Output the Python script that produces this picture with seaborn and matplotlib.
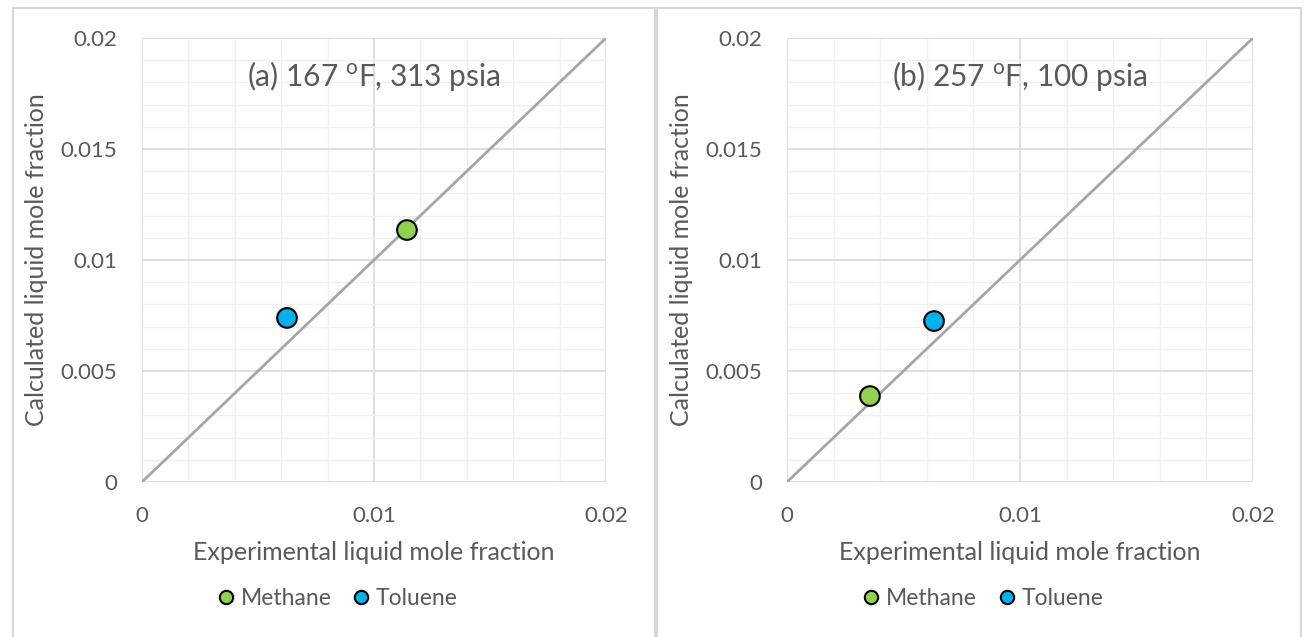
import matplotlib
matplotlib.use("Agg")
import matplotlib.pyplot as plt
from matplotlib.patches import Rectangle
from matplotlib.ticker import MultipleLocator, FuncFormatter
import seaborn as sns
import pandas as pd

components = ["Methane", "Toluene"]
colors = {"Methane": "#92D050", "Toluene": "#00B0F0"}

# panel (a) 167 F, 313 psia
exp_a = [0.01142, 0.00625]
calc_a = [0.01135, 0.00739]
# panel (b) 257 F, 100 psia
exp_b = [0.00356, 0.00631]
calc_b = [0.00387, 0.00725]

titles = [r"(a) 167 $\mathregular{^o}$F, 313 psia", r"(b) 257 $\mathregular{^o}$F, 100 psia"]
parity = [0, 0.02]

sns.set_theme(style="white")
plt.rcParams["font.family"] = ["Lato", "DejaVu Sans"]
text_col = "#595959"
grid_col = "#D9D9D9"

fig = plt.figure(figsize=(13.07, 6.37), dpi=100)
W, H = 1307, 637

# panel frames (bottom edge runs off the image)
fig.patches.append(Rectangle((13 / W, -0.05), (655 - 13) / W, 1.05 - 8 / H, transform=fig.transFigure,
                             fill=False, edgecolor="#D0D0D0", lw=1.2))
fig.patches.append(Rectangle((657 / W, -0.05), (1301 - 657) / W, 1.05 - 8 / H, transform=fig.transFigure,
                             fill=False, edgecolor="#D0D0D0", lw=1.2))

axes_pos = [(142, 606), (787, 1253)]
datasets = [(exp_a, calc_a), (exp_b, calc_b)]

for (x0, x1), (ex, ca), title in zip(axes_pos, datasets, titles):
    ax = fig.add_axes([x0 / W, (H - 482) / H, (x1 - x0) / W, 444 / H])
    df = pd.DataFrame({"exp": ex, "calc": ca, "Component": components})
    ax.plot(parity, parity, color="#A6A6A6", lw=2, zorder=2)
    sns.scatterplot(data=df, x="exp", y="calc", hue="Component", palette=colors,
                    s=200, edgecolor="black", linewidth=1.5, ax=ax, zorder=3)
    ax.set_xlim(0, 0.02)
    ax.set_ylim(0, 0.02)
    ax.xaxis.set_major_locator(MultipleLocator(0.01))
    ax.yaxis.set_major_locator(MultipleLocator(0.005))
    ax.xaxis.set_minor_locator(MultipleLocator(0.002))
    ax.yaxis.set_minor_locator(MultipleLocator(0.001))
    fmt = FuncFormatter(lambda v, p: "{:g}".format(round(v, 4)))
    ax.xaxis.set_major_formatter(fmt)
    ax.yaxis.set_major_formatter(fmt)
    ax.grid(which="major", color=grid_col, lw=1.2, zorder=0)
    ax.grid(which="minor", color="#F0F0F0", lw=1.0, zorder=0)
    ax.set_axisbelow(True)
    for s in ax.spines.values():
        s.set_visible(False)
    ax.tick_params(which="both", length=0, labelsize=16, labelcolor=text_col)
    ax.tick_params(axis="x", pad=17)
    ax.tick_params(axis="y", pad=18)
    ax.set_xlabel("Experimental liquid mole fraction", fontsize=18, color=text_col, labelpad=11)
    ax.set_ylabel("Calculated liquid mole fraction", fontsize=18, color=text_col, labelpad=9)
    ax.text(0.5, 0.915, title, transform=ax.transAxes, ha="center", va="center",
            fontsize=21.5, color=text_col)
    sns.move_legend(ax, "center", bbox_to_anchor=(0.418, -0.262), ncol=2, frameon=False,
                    title=None, fontsize=16.5, handlelength=1.0, handletextpad=0.15,
                    columnspacing=0.8, labelcolor=text_col, markerscale=0.68)

fig.savefig("out.png", dpi=100)
